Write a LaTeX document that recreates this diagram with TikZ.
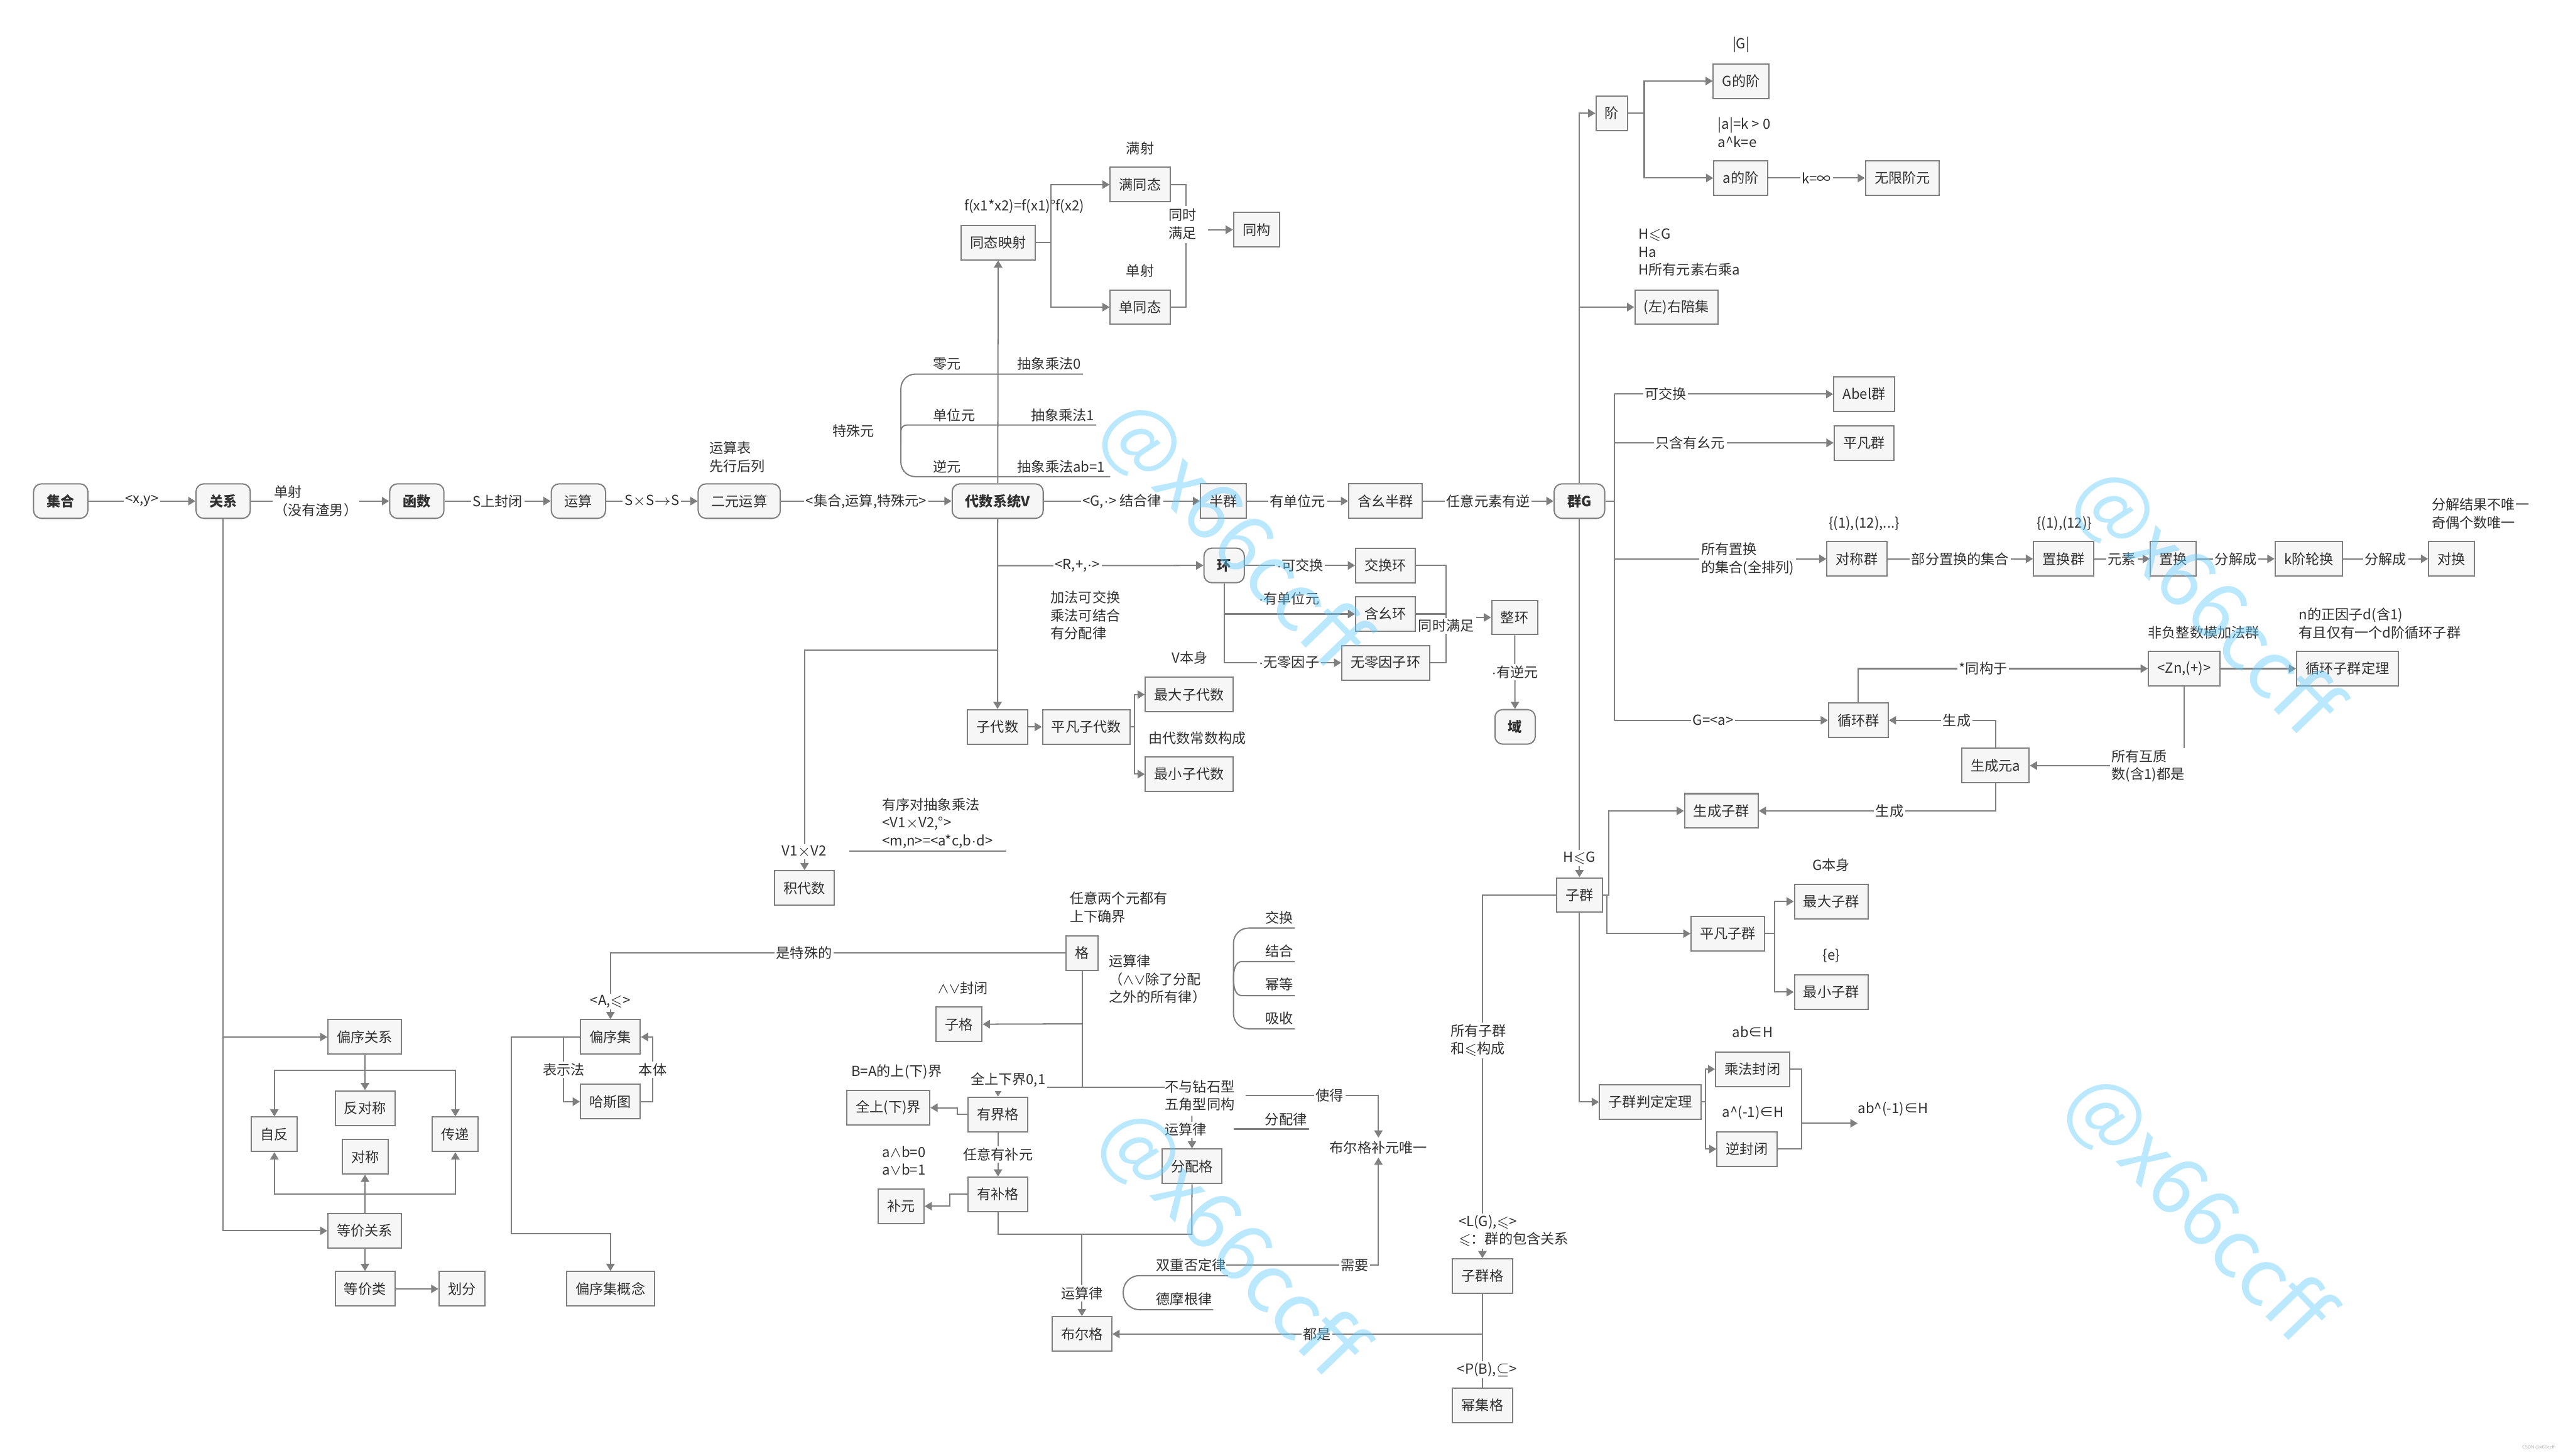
\documentclass[tikz,border=0pt]{standalone}
\usepackage{amssymb}
\usepackage{fontspec}
\setmainfont{Noto Sans CJK SC}
\usepackage{xcolor}
\usetikzlibrary{arrows.meta, positioning}
\definecolor{lncol}{HTML}{7F7F7F}
\definecolor{boxfill}{HTML}{F6F6F6}
\definecolor{txtcol}{HTML}{303030}
\definecolor{wmcol}{HTML}{66CCFF}
\newcommand{\lsl}{\ensuremath{\leqslant}}
\newcommand{\cdt}{\ensuremath{\cdot}}
\newcommand{\tms}{\ensuremath{\times}}
\newcommand{\andor}{\ensuremath{\wedge\vee}}

\begin{document}
\begin{tikzpicture}[
    x=0.27334mm, y=-0.27334mm,
    every node/.style={font=\fontsize{6.6}{8.5}\selectfont, text=txtcol},
    box/.style={draw=lncol, fill=boxfill, line width=0.6pt, minimum height=5.75mm, inner xsep=1.5mm, inner ysep=0pt},
    mbox/.style={box, rounded corners=1.3mm, inner xsep=2.2mm},
    bbox/.style={mbox, font=\fontsize{6.6}{8.5}\selectfont\bfseries},
    lbl/.style={fill=white, inner sep=0.8pt},
    txt/.style={align=left, inner sep=0pt},
    ln/.style={draw=lncol, line width=0.6pt},
    arr/.style={ln, -{Triangle[length=1.2mm, width=1.4mm]}},
    wm/.style={text=wmcol, opacity=0.45, font=\fontsize{38}{38}\selectfont, rotate=-46},
  ]
  \useasboundingbox (0,0) rectangle (1568,887.2);

  % main line
  \node[bbox] (set) at (37,305.4) {集合};
  \node[bbox] (rel) at (136,305.4) {关系};
  \node[bbox] (func) at (254,305.4) {函数};
  \node[mbox] (op) at (352.5,305.4) {运算};
  \node[mbox] (binop) at (450.5,305.4) {二元运算};
  \node[bbox] (alg) at (608,305.4) {代数系统V};
  \node[box] (semi) at (745.7,305.4) {半群};
  \node[box] (monoid) at (844.4,305.4) {含幺半群};
  \node[bbox] (grp) at (962.5,305.4) {群G};
  \node[txt, anchor=west] (optab) at (432,278.5) {运算表\\先行后列};
  \draw[arr] (set) -- node[lbl]{<x,y>} (rel);
  \draw[arr] (rel) -- node[lbl, align=left, pos=0.47]{单射\\（没有渣男）} (func);
  \draw[arr] (func) -- node[lbl]{S上封闭} (op);
  \draw[arr] (op) -- node[lbl]{S\tms S$\to$S} (binop);
  \draw[arr] (binop) -- node[lbl]{<集合,运算,特殊元>} (alg);
  \draw[arr] (alg) -- node[lbl]{<G,\cdt> 结合律} (semi);
  \draw[arr] (semi) -- node[lbl]{有单位元} (monoid);
  \draw[arr] (monoid) -- node[lbl]{任意元素有逆} (grp);

  % homomorphism
  \node[box] (homo) at (608.3,147.8) {同态映射};
  \node[box] (epi) at (694.8,112.5) {满同态};
  \node[box] (mono) at (694.8,187.2) {单同态};
  \node[box] (iso) at (765.7,140) {同构};
  \node[txt, anchor=west] (homof) at (587.4,125.8) {f(x1*x2)=f(x1)°f(x2)};
  \node[txt] (epit) at (694.8,90.3) {满射};
  \node[txt] (monot) at (694.8,165) {单射};
  \node[txt] (both) at (720.7,136.5) {同时\\满足};
  \draw[arr] (alg) -- (homo);
  \draw[arr] (homo.east) -- (640.5,147.8) |- (epi.west);
  \draw[arr] (homo.east) -- (640.5,147.8) |- (mono.west);
  \draw[ln] (epi.east) -| (722.8,125.5);
  \draw[ln] (mono.east) -| (722.8,148.2);
  \draw[arr] ([xshift=1.8mm]both.east |- iso.west) -- (iso.west);

  % special elements
  \node[txt] (spec) at (520,262.7) {特殊元};
  \draw[ln, rounded corners=2.4mm] (660,228) -- (549,228) -- (549,290.5) -- (676.6,290.5);
  \draw[ln, rounded corners=1mm] (549,270) -- (549,259) -- (668,259);
  \node[txt, anchor=west] (zero) at (568.5,221.8) {零元};
  \node[txt, anchor=west] (unit) at (568.5,253) {单位元};
  \node[txt, anchor=west] (inv) at (568.5,284.4) {逆元};
  \node[txt, anchor=west] (zerom) at (619.8,221.8) {抽象乘法0};
  \node[txt, anchor=west] (unitm) at (628,253) {抽象乘法1};
  \node[txt, anchor=west] (invm) at (619.8,284.4) {抽象乘法ab=1};

  % rings
  \node[bbox] (ring) at (746,344.6) {环};
  \node[box] (cring) at (844.4,344.6) {交换环};
  \node[box] (uring) at (844.4,374.2) {含幺环};
  \node[box] (nzring) at (844.4,403.9) {无零因子环};
  \node[box] (idom) at (923,376.3) {整环};
  \node[bbox] (field) at (923.3,443) {域};
  \node[txt, anchor=west] (ringax) at (640,375) {加法可交换\\乘法可结合\\有分配律};
  \draw[arr] (608,344.8) -- (ring.west);
  \node[lbl] at (656.6,344.8) {<R,+,\cdt>};
  \draw[arr] (ring) -- node[lbl]{\cdt 可交换} (cring);
  \draw[arr] (ring.south) |- (uring.west);
  \node[txt] at (785.5,364.7) {\cdt 有单位元};
  \draw[arr] (ring.south) |- (nzring.west);
  \node[lbl] at (785.5,403.7) {\cdt 无零因子};
  \draw[ln] (cring.east) -| (881.3,403.9) -- (nzring.east);
  \draw[ln] (uring.east) -- (881.3,374.2);
  \node[lbl] (bothr) at (881.3,381.5) {同时满足};
  \draw[arr] (bothr.east |- idom.west) -- (idom.west);
  \draw[arr] (idom) -- node[lbl]{\cdt 有逆元} (field);

  % subalgebras
  \node[box] (subalg) at (607.9,443) {子代数};
  \node[box] (trivalg) at (662,443) {平凡子代数};
  \node[box] (maxalg) at (724.7,423.3) {最大子代数};
  \node[box] (minalg) at (724.7,471.8) {最小子代数};
  \node[box] (prodalg) at (490.3,541.2) {积代数};
  \node[txt] (vself) at (725,400.8) {V本身};
  \node[txt] (vconst) at (729.6,449.8) {由代数常数构成};
  \draw[arr] (alg) -- (subalg);
  \draw[arr] (607.9,396.2) -| (prodalg.north);
  \node[lbl] at (490,519) {V1\tms V2};
  \node[txt, anchor=west] (prodop) at (537.3,501.6) {有序对抽象乘法\\<V1\tms V2,°>\\<m,n>=<a*c,b\cdt d>};
  \draw[ln] (517.7,518.7) -- (613.4,518.7);
  \draw[arr] (subalg) -- (trivalg);
  \draw[arr] (trivalg.east) -- (691.5,443) |- (maxalg.west);
  \draw[arr] (trivalg.east) -- (691.5,443) |- (minalg.west);

  % posets and relations
  \node[box] (porel) at (222.3,632) {偏序关系};
  \node[box] (eqrel) at (222.3,750.1) {等价关系};
  \node[box] (antisym) at (222.5,675.3) {反对称};
  \node[box] (refl) at (167.2,691.3) {自反};
  \node[box] (trans) at (277.5,691.3) {传递};
  \node[box] (symm) at (222.5,705) {对称};
  \node[box] (eqcls) at (222.5,785.5) {等价类};
  \node[box] (part) at (281.5,785.5) {划分};
  \draw[arr] (rel.south) |- (eqrel.west);
  \draw[arr] (rel.south |- porel.west) -- (porel.west);
  \coordinate (pojn) at (222.4,652.4);
  \coordinate (eqjn) at (222.4,727.9);
  \draw[arr] (porel) -- (antisym);
  \draw[arr] (pojn) -| (refl.north);
  \draw[arr] (pojn) -| (trans.north);
  \draw[arr] (eqrel) -- (symm);
  \draw[arr] (eqjn) -| (refl.south);
  \draw[arr] (eqjn) -| (trans.south);
  \draw[arr] (eqrel) -- (eqcls);
  \draw[arr] (eqcls) -- (part);

  \node[box] (poset) at (372,632) {偏序集};
  \node[box] (hasse) at (372,671.4) {哈斯图};
  \node[box] (posetc) at (372,785.5) {偏序集概念};

  % lattices
  \node[box] (lat) at (659.4,580.8) {格};
  \node[box] (sublat) at (584.5,624.2) {子格};
  \node[box] (bdlat) at (608.2,679.2) {有界格};
  \node[box] (bound) at (541.3,675.1) {全上(下)界};
  \node[box] (cplat) at (608.2,727.9) {有补格};
  \node[box] (cpl) at (549.1,735.1) {补元};
  \node[box] (dlat) at (726.4,710.8) {分配格};
  \node[box] (blat) at (659.3,813) {布尔格};
  \node[txt, anchor=west] (latdef) at (651.8,553) {任意两个元都有\\上下确界};
  \node[txt, anchor=west] (latlaw) at (675.4,596.8) {运算律\\（\andor 除了分配\\之外的所有律）};
  \node[txt] (subt) at (586.8,602.3) {\andor 封闭};
  \node[txt] (boundt) at (546.4,653.3) {B=A的上(下)界};
  \node[txt, anchor=west] (cplt) at (537.4,707.3) {a$\wedge$b=0\\a$\vee$b=1};
  \node[txt, anchor=west] (diam) at (709.7,667.6) {不与钻石型\\五角型同构};
  \node[txt, inner sep=1.5pt] (bcu) at (840,699.4) {布尔格补元唯一};

  \draw[arr] (lat.west) -| (poset.north);
  \node[lbl] at (490,580.9) {是特殊的};
  \node[lbl] at (372,610.4) {<A,\lsl>};
  \draw[arr] (poset.west) -- (311.6,632) -- (311.6,751.7) -- (372,751.7) -- (posetc.north);
  \draw[arr] (343.3,632) |- (hasse.west);
  \node[lbl] at (343.5,651.8) {表示法};
  \draw[arr] (hasse.east) -- (397.7,671.4) |- (poset.east);
  \node[lbl] at (397.8,651.8) {本体};

  \coordinate (ltrunk) at (659.4,662.7);
  \draw[ln] (lat.south) -- (ltrunk);
  \draw[arr] (659.4,624) -- (sublat.east);
  \draw[arr] (ltrunk) -| (bdlat.north);
  \node[lbl, inner ysep=2pt] at (614.3,658) {全上下界0,1};
  \draw[ln] (ltrunk) -- (709.7,662.7);
  \draw[arr] ([xshift=1.8mm]diam.east) -| (bcu.north);
  \node[lbl] at (810.3,667.6) {使得};
  \draw[arr] (726.3,680) -- (dlat.north);
  \node[lbl] at (722.5,688.5) {运算律};
  \node[txt] (distt) at (783.7,682.2) {分配律};
  \draw[ln] (751.7,688.1) -- (797.8,688.1);
  \draw[arr] (bdlat.west) -- (583.5,679.2) |- (bound.east);
  \draw[arr] (bdlat) -- node[lbl]{任意有补元} (cplat);
  \draw[arr] (cplat.west) -- (578.7,727.9) |- (cpl.east);
  \draw[ln] (cplat.south) |- (726.3,752.2) -- (dlat.south);
  \draw[arr] (659.3,752.2) -- (blat.north);
  \node[lbl] at (659.3,788.2) {运算律};

  % laws braces
  \draw[ln, rounded corners=2.5mm] (789,565.6) -- (751.7,565.6) -- (751.7,627) -- (789,627);
  \draw[ln] (789,586) -- (757,586) to[out=180,in=90] (751.7,596) to[out=-90,in=180] (757,606.8) -- (789,606.8);
  \node[txt] (lcomm) at (779.6,559.2) {交换};
  \node[txt] (lassoc) at (779.6,579.6) {结合};
  \node[txt] (lidem) at (779.6,599.9) {幂等};
  \node[txt] (labs) at (779.6,620.7) {吸收};
  \draw[ln, rounded corners=2.7mm] (748.3,777.4) -- (684.5,777.4) -- (684.5,798.2) -- (739.3,798.2);
  \node[txt, anchor=west] (dneg) at (704.4,771) {双重否定律};
  \node[txt, anchor=west] (dmorg) at (704.4,791.8) {德摩根律};
  \draw[arr] (dneg.east) -| (bcu.south);
  \node[lbl] at (825.5,771.3) {需要};

  % group: order and cosets
  \node[box] (ord) at (982.3,69) {阶};
  \node[box] (gord) at (1061,49.4) {G的阶};
  \node[box] (aord) at (1060.8,108.5) {a的阶};
  \node[box] (inford) at (1159.3,108.5) {无限阶元};
  \node[box] (coset) at (1021.6,187.2) {(左)右陪集};
  \node[txt] (gabs) at (1061,27.3) {|G|};
  \node[txt, anchor=west] (aabs) at (1046.7,80.8) {|a|=k > 0\\a\textasciicircum k=e};
  \node[txt, anchor=west] (cosett) at (998.3,153.8) {H\lsl G\\Ha\\H所有元素右乘a};
  \draw[arr] (grp.north) |- (ord.west);
  \draw[arr] (grp.north |- coset.west) -- (coset.west);
  \draw[arr] (ord.east) -- (1002,69) |- (gord.west);
  \draw[arr] (ord.east) -- (1002,69) |- (aord.west);
  \draw[arr] (aord) -- node[lbl]{k=∞} (inford);

  % group: kinds
  \node[box] (abel) at (1136,240.2) {Abel群};
  \node[box] (trivgrp) at (1136,269.9) {平凡群};
  \node[box] (symgrp) at (1131.6,340.6) {对称群};
  \node[box] (permgrp) at (1257.5,340.6) {置换群};
  \node[box] (perm) at (1324.5,340.6) {置换};
  \node[box] (kcyc) at (1407,340.6) {k阶轮换};
  \node[box] (transp) at (1494,340.6) {对换};
  \node[box] (cycgrp) at (1132.5,439) {循环群};
  \node[box] (zn) at (1331,407.5) {<Zn,(+)>};
  \node[box] (cycthm) at (1430.5,407.5) {循环子群定理};
  \node[box] (gena) at (1216,466.6) {生成元a};
  \node[txt] (symt) at (1136,319) {\{(1),(12),...\}};
  \node[txt] (permt) at (1258,319) {\{(1),(12)\}};
  \node[txt, anchor=west] (decomp) at (1481.6,313) {分解结果不唯一\\奇偶个数唯一};
  \node[txt] (znt) at (1343,385.6) {非负整数模加法群};
  \node[txt, anchor=west] (cyct) at (1400.7,380) {n的正因子d(含1)\\有且仅有一个d阶循环子群};

  \coordinate (gbus) at (984,305.4);
  \draw[ln] (grp.east) -- (gbus);
  \draw[ln] (984,240.2) -- (984,439);
  \draw[arr] (984,240.2) -- (abel.west);
  \node[lbl] at (1015,240.2) {可交换};
  \draw[arr] (984,269.9) -- (trivgrp.west);
  \node[lbl] at (1030,269.9) {只含有幺元};
  \draw[arr] (984,340.6) -- (symgrp.west);
  \node[lbl, align=left] at (1065,340.6) {所有置换\\的集合(全排列)};
  \draw[arr] (symgrp) -- node[lbl]{部分置换的集合} (permgrp);
  \draw[arr] (permgrp) -- node[lbl]{元素} (perm);
  \draw[arr] (perm) -- node[lbl]{分解成} (kcyc);
  \draw[arr] (kcyc) -- node[lbl]{分解成} (transp);
  \draw[arr] (984,439) -- (cycgrp.west);
  \node[lbl] at (1044,439) {G=<a>};
  \draw[arr] (cycgrp.north) |- (zn.west);
  \node[lbl] at (1208.5,407.5) {*同构于};
  \draw[arr] (zn) -- (cycthm);
  \draw[arr] (zn.south) |- (gena.east);
  \node[lbl, align=left] at (1309,466.8) {所有互质\\数(含1)都是};
  \draw[arr] (gena.north) |- (cycgrp.east);
  \node[lbl] at (1192.5,439) {生成};

  % subgroups
  \node[box] (gensub) at (1049,494.2) {生成子群};
  \node[box] (subgrp) at (962.5,545.5) {子群};
  \node[box] (trivsub) at (1053,569) {平凡子群};
  \node[box] (maxsub) at (1116,549.4) {最大子群};
  \node[box] (minsub) at (1116,604.6) {最小子群};
  \node[box] (subthm) at (1005.7,671.6) {子群判定定理};
  \node[box] (mulcl) at (1068,651.6) {乘法封闭};
  \node[box] (invcl) at (1064.6,700.3) {逆封闭};
  \node[box] (sglat) at (903.4,777.7) {子群格};
  \node[box] (pslat) at (903.4,856.4) {幂集格};
  \node[txt] (gself) at (1116,527) {G本身};
  \node[txt] (eset) at (1116,582.5) {\{e\}};
  \node[txt] (abh) at (1068,629) {ab∈H};
  \node[txt] (ainvh) at (1068.4,678) {a\textasciicircum(-1)∈H};
  \node[txt, anchor=west] (abinvh) at (1132,675.7) {ab\textasciicircum(-1)∈H};
  \coordinate (crit) at (1132,684.6);

  \draw[arr] (grp) -- (subgrp);
  \node[lbl] at (962.5,523) {H\lsl G};
  \draw[arr] (gena.south) |- (gensub.east);
  \node[lbl] at (1151.5,494.4) {生成};
  \draw[arr] (subgrp.east) -- (980.3,545.5) |- (gensub.west);
  \draw[arr] (subgrp.east) -- (979.3,545.5) |- (trivsub.west);
  \draw[arr] (trivsub.east) -- (1081.3,569) |- (maxsub.west);
  \draw[arr] (trivsub.east) -- (1081.3,569) |- (minsub.west);
  \draw[arr] (subgrp.south) |- (subthm.west);
  \draw[arr] (subthm.east) -- (1039.4,671.6) |- (mulcl.west);
  \draw[arr] (subthm.east) -- (1039.4,671.6) |- (invcl.west);
  \draw[ln] (mulcl.east) -| (1097.9,700.3) -- (invcl.east);
  \draw[arr] (1097.9,684.6) -- (crit);
  \draw[arr] (subgrp.west) -| (sglat.north);
  \node[lbl, align=left] at (901,634) {所有子群\\和\lsl 构成};
  \node[lbl, align=left, anchor=west] at (887.6,750.2) {<L(G),\lsl>\\\lsl：群的包含关系};
  \coordinate (alljn) at (903.4,813);
  \draw[ln] (sglat.south) -- (alljn);
  \draw[ln] (pslat.north) -- (alljn);
  \draw[arr] (alljn) -- (blat.east);
  \node[lbl] at (802.5,813) {都是};
  \node[lbl] at (906.3,834.7) {<P(B),$\subseteq$>};

  \foreach \wx/\wy in {751/326, 750/758, 1344/367, 1339/737}
    \node[wm] at (\wx,\wy) {@x66ccff};
  \node[font=\fontsize{2.2}{3}\selectfont, text=gray!60] (csdn) at (1547,882) {CSDN @x66ccff};
\end{tikzpicture}
\end{document}
